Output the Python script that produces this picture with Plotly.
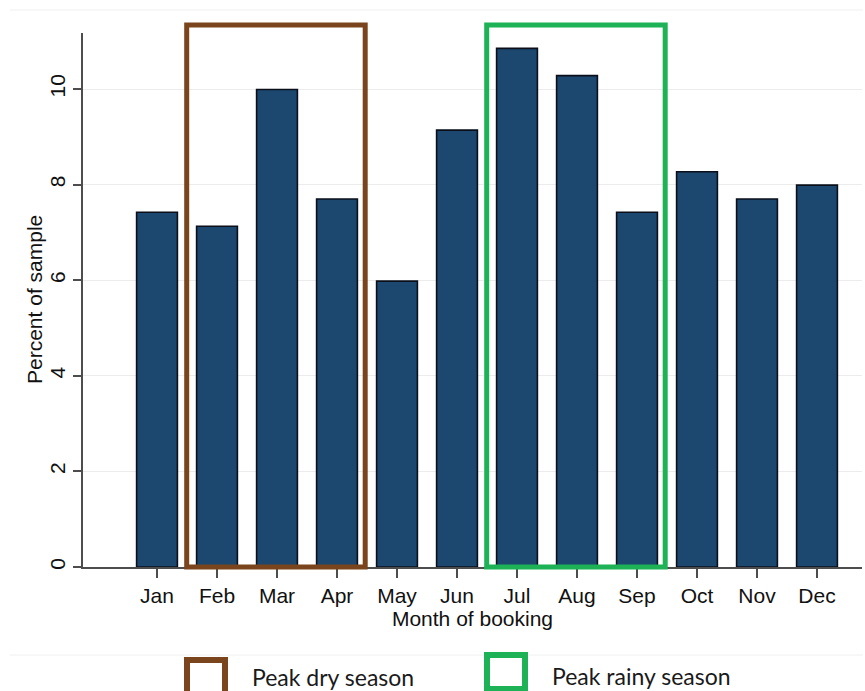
import plotly.graph_objects as go

# ---- data ----
months = ["Jan", "Feb", "Mar", "Apr", "May", "Jun", "Jul", "Aug", "Sep", "Oct", "Nov", "Dec"]
percent = [7.42, 7.13, 9.99, 7.70, 5.98, 9.14, 10.85, 10.28, 7.42, 8.27, 7.70, 7.99]
y_ticks = [0, 2, 4, 6, 8, 10]
dry_season = ["Feb", "Mar", "Apr"]
rainy_season = ["Jul", "Aug", "Sep"]
legend_labels = ["Peak dry season", "Peak rainy season"]
x_title = "Month of booking"
y_title = "Percent of sample"

# ---- layout constants (pixels) ----
W, H = 865, 691
L, R, T, B = 83, 3, 33, 124
PW, PH = W - L - R, H - T - B

BROWN = "#7a451c"
GREEN = "#1db255"
BAR = "#1c4870"
AXIS = "#4d4d4d"


def px_x(px):
    return (px - L) / PW


def px_y(py):
    return (H - B - py) / PH


fig = go.Figure()
fig.add_trace(go.Bar(
    x=months, y=percent, width=0.68,
    marker=dict(color=BAR, line=dict(color="#0a0f1a", width=1.6)),
    showlegend=False,
))


def season_box(season, color):
    i0 = months.index(season[0])
    i1 = months.index(season[-1])
    fig.add_shape(type="rect", xref="x", yref="paper",
                  x0=i0 - 0.505, x1=i1 + 0.47, y0=0, y1=1.015,
                  line=dict(color=color, width=5), fillcolor="rgba(0,0,0,0)",
                  layer="above")


season_box(dry_season, BROWN)
season_box(rainy_season, GREEN)

# faint frame lines from the original image
for py in (10, 655):
    fig.add_shape(type="line", xref="paper", yref="paper",
                  x0=px_x(10), x1=px_x(863), y0=px_y(py), y1=px_y(py),
                  line=dict(color="#f0f0f0", width=1))

# legend (bottom)
legend_items = [
    (legend_labels[0], BROWN, 187, 225, 660, 697, 250, 677),
    (legend_labels[1], GREEN, 487, 525, 655, 689, 550, 676),
]
for text, color, x0, x1, y0, y1, tx, ty in legend_items:
    fig.add_shape(type="rect", xref="paper", yref="paper",
                  x0=px_x(x0), x1=px_x(x1), y0=px_y(y1), y1=px_y(y0),
                  line=dict(color=color, width=6), fillcolor="white")
    fig.add_annotation(xref="paper", yref="paper", x=px_x(tx), y=px_y(ty),
                       text=text, showarrow=False, xanchor="left", yanchor="middle",
                       font=dict(family="Lato, Open Sans, sans-serif", size=23, color="#1a1a1a"))

# y-axis title
fig.add_annotation(xref="paper", yref="paper", x=px_x(34), y=0.5,
                   text=y_title, textangle=-90, showarrow=False,
                   xanchor="center", yanchor="middle",
                   font=dict(size=21, color="#111"))

x_min = -74 / 60
x_max = x_min + PW / 60
y_max = PH / 47.8

fig.update_layout(
    width=W, height=H,
    margin=dict(l=L, r=R, t=T, b=B, pad=0),
    paper_bgcolor="white", plot_bgcolor="white",
    font=dict(family="Liberation Sans, Arial, sans-serif", size=21, color="#111"),
    xaxis=dict(
        type="category", range=[x_min, x_max],
        showline=True, linecolor=AXIS, linewidth=1.5,
        ticks="outside", ticklen=9, tickcolor=AXIS, tickwidth=1.5,
        showgrid=False, zeroline=False,
        tickfont=dict(size=21, color="#111"),
        title=dict(text=x_title, font=dict(size=21, color="#111"), standoff=0),
    ),
    yaxis=dict(
        range=[0, y_max],
        tickvals=y_ticks, ticktext=[str(v) for v in y_ticks],
        tickangle=-90, ticklabelstandoff=0,
        showline=True, linecolor=AXIS, linewidth=1.5,
        ticks="outside", ticklen=8, tickcolor=AXIS, tickwidth=1.5,
        showgrid=True, gridcolor="#ececec", gridwidth=1,
        zeroline=False,
        tickfont=dict(size=21, color="#111"),
    ),
)

fig.write_html(
    "out.html",
    config={"displayModeBar": False},
    post_script="document.body.style.margin='0px';document.body.style.overflow='hidden';",
)
